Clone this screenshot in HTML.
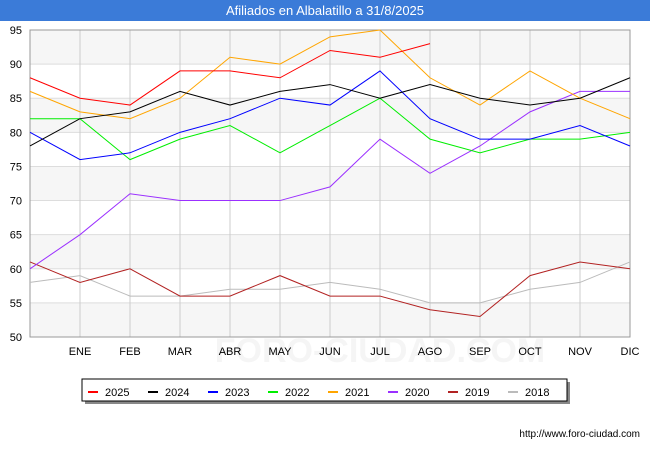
<!DOCTYPE html>
<html><head><meta charset="utf-8"><style>
body{margin:0;width:650px;height:450px;background:#fff;font-family:"Liberation Sans",sans-serif;overflow:hidden}
</style></head><body>
<svg width="650" height="450" xmlns="http://www.w3.org/2000/svg">
<rect x="0" y="0" width="650" height="21" fill="#3b7bd8"/>
<text x="325" y="15" text-anchor="middle" fill="#fff" font-size="13">Afiliados en Albalatillo a 31/8/2025</text>
<text x="380" y="362" text-anchor="middle" fill="#f5f5f5" font-size="34" font-weight="bold">FORO-CIUDAD.COM</text>
<g id="plot"></g>
<g id="legend"></g>
<text x="640" y="437" text-anchor="end" font-size="10" fill="#000">http://www.foro-ciudad.com</text>
</svg>
<script>
const months=["","ENE","FEB","MAR","ABR","MAY","JUN","JUL","AGO","SEP","OCT","NOV","DIC"];
const yTicks=[50,55,60,65,70,75,80,85,90,95];
const seriesNames=["2025","2024","2023","2022","2021","2020","2019","2018"];
const seriesColors=["#ff0000","#000000","#0000ff","#00ee00","#ffa500","#9b30ff","#b22222","#bbbbbb"];
const s2025=[88,85,84,89,89,88,92,91,93];
const s2024=[78,82,83,86,84,86,87,85,87,85,84,85,88];
const s2023=[80,76,77,80,82,85,84,89,82,79,79,81,78];
const s2022=[82,82,76,79,81,77,81,85,79,77,79,79,80];
const s2021=[86,83,82,85,91,90,94,95,88,84,89,85,82];
const s2020=[60,65,71,70,70,70,72,79,74,78,83,86,86];
const s2019=[61,58,60,56,56,59,56,56,54,53,59,61,60];
const s2018=[58,59,56,56,57,57,58,57,55,55,57,58,61];
const allSeries=[s2025,s2024,s2023,s2022,s2021,s2020,s2019,s2018];
const NS="http://www.w3.org/2000/svg";
const L=30,R=630,T=30,B=337,ymin=50,ymax=95;
const x=i=>L+i*(R-L)/12;
const y=v=>B-(v-ymin)*(B-T)/(ymax-ymin);
function mk(tag,a,p){const e=document.createElementNS(NS,tag);for(const k in a)e.setAttribute(k,a[k]);p.appendChild(e);return e;}
const g=document.getElementById('plot');
for(let i=0;i<yTicks.length-1;i++){
 if(i%2==0){const r=mk('rect',{x:L,y:y(yTicks[i+1]),width:R-L,height:y(yTicks[i])-y(yTicks[i+1]),fill:'#f6f6f6'},g);
 
 }
}
yTicks.forEach(v=>{const l=mk('line',{x1:L,x2:R,y1:y(v),y2:y(v),stroke:'#dddddd'},g);


const t=mk('text',{x:L-8,y:y(v)+4,'text-anchor':'end','font-size':11},g);t.textContent=v;

});
months.forEach((m,i)=>{const l=mk('line',{x1:x(i),x2:x(i),y1:T,y2:B,stroke:'#cccccc'},g);


if(m){const t=mk('text',{x:x(i),y:B+18,'text-anchor':'middle','font-size':11},g);t.textContent=m;

}});
const fr=mk('rect',{x:L,y:T,width:R-L,height:B-T,fill:'none',stroke:'#999'},g);


for(let k=allSeries.length-1;k>=0;k--){
 const pts=allSeries[k].map((v,i)=>x(i)+','+y(v)).join(' ');
 const p=mk('polyline',{points:pts,fill:'none',stroke:seriesColors[k],'stroke-width':1},g);
 
 
}
const lg=document.getElementById('legend');
const sh=mk('rect',{x:85,y:382,width:485,height:22,fill:'#888'},lg);


const lb=mk('rect',{x:82,y:379,width:485,height:22,fill:'#fff',stroke:'#000'},lg);


seriesNames.forEach((n,i)=>{const bx=88+i*60;
 const l=mk('line',{x1:bx,x2:bx+10,y1:392,y2:392,stroke:seriesColors[i],'stroke-width':2},lg);
 
 
 const t=mk('text',{x:bx+17,y:396,'font-size':11},lg);t.textContent=n;
 
 });
</script>
</body></html>
